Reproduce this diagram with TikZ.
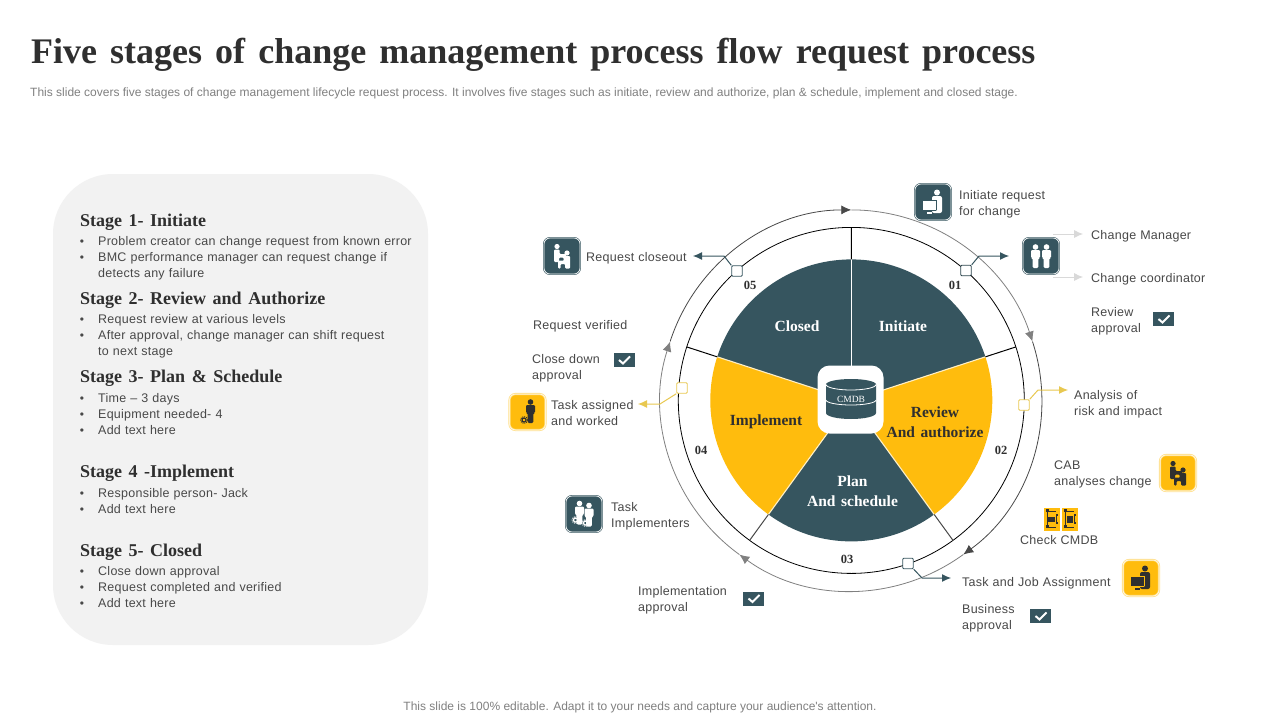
\documentclass[tikz,border=0pt]{standalone}
\usepackage{fontspec}
\setmainfont[WordSpace=1.1,LetterSpace=2]{Liberation Sans}
\newfontfamily\plainf{Liberation Sans}
\newfontfamily\serb[WordSpace=1.1]{Liberation Serif}
\newfontfamily\titlef[WordSpace=1.45]{Liberation Serif}
\usetikzlibrary{arrows.meta}
\definecolor{dk}{HTML}{36555F}
\definecolor{yl}{HTML}{FFBC0D}
\definecolor{ylb}{HTML}{FFE08A}
\definecolor{ylc}{HTML}{E8C850}
\definecolor{tx}{HTML}{484848}
\definecolor{pn}{HTML}{F2F2F2}
\definecolor{gl}{HTML}{2F2F2F}
\tikzset{
 lab/.style={anchor=west,inner sep=0,yshift=-2pt,align=left,text=tx,font=\fontsize{12.5}{16}\selectfont},
 head/.style={anchor=west,inner sep=0,yshift=-2pt,text=gl,font=\serb\bfseries\fontsize{18}{20}\selectfont},
 bul/.style={anchor=center,inner sep=0,yshift=-2pt,text=tx,font=\fontsize{12}{16}\selectfont},
 wl/.style={anchor=center,inner sep=0,align=center,font=\serb\bfseries\fontsize{15.5}{20}\selectfont},
 num/.style={anchor=center,inner sep=0,text=gl,font=\serb\bfseries\fontsize{12.5}{14}\selectfont},
 sq/.style={draw=#1,fill=white,line width=.9pt,rounded corners=1pt,minimum size=10.5pt,inner sep=0},
 icoD/.style={rectangle,minimum size=36pt,inner sep=0,rounded corners=6pt,fill=dk,draw=dk,double=white,line width=.6pt,double distance=.7pt},
 icoY/.style={rectangle,minimum size=36pt,inner sep=0,rounded corners=6pt,fill=yl,draw=ylb,double=white,line width=.8pt,double distance=.5pt},
 chk/.style={rectangle,minimum width=21pt,minimum height=14pt,inner sep=0,fill=dk},
 chip/.style={rectangle,minimum width=16pt,minimum height=23pt,inner sep=0,fill=yl},
 conn/.style={line width=1pt,-{Latex[length=9pt,width=8pt]}},
 ring/.style={line width=.8pt},
 rarr/.style={line width=.8pt,-{Latex[length=10pt,width=9pt]}}
}
\newcommand\tick[1]{\draw[white,line width=2pt] ([xshift=-5pt,yshift=0pt]#1.center) -- ([xshift=-1pt,yshift=-3.5pt]#1.center) -- ([xshift=6pt,yshift=3.5pt]#1.center);}
\newcommand\gStand[3]{\fill[#3] (#1,#2+9) circle (2.8);
 \fill[#3,rounded corners=1.2pt] (#1-4.5,#2+6) -- (#1+4.5,#2+6) -- (#1+4.5,#2-2) -- (#1+3,#2-2) -- (#1+2.8,#2-12) -- (#1-2.8,#2-12) -- (#1-3,#2-2) -- (#1-4.5,#2-2) -- cycle;}
\newcommand\gSeat[4]{\begin{scope}[shift={(#1,#2)},xscale=#4]
 \fill[#3] (0,6.5) circle (2.6);
 \fill[#3,rounded corners=1pt] (-3,3.5) -- (2.6,3.5) -- (2.6,-1) -- (9,-1) -- (9,-9) -- (6.5,-9) -- (6.5,-4.5) -- (2,-4.5) -- (2,-9) -- (-3,-9) -- cycle;
 \end{scope}}
\newcommand\gDesk[2]{\fill[#1] (4,9.5) circle (3);
 \fill[#1,rounded corners=2pt] (-1,6) -- (9,6) -- (9,-11) -- (-1,-11) -- cycle;
 \fill[#1] (-10,-8) rectangle (3,1.5);
 \draw[#2,line width=.8pt] (3.4,-8.4) -- (3.4,1.9) -- (-1.5,1.9);
 \draw[#2,line width=.8pt] (-10,-8.5) -- (3.4,-8.4);
 \fill[#1] (-6.5,-11.5) rectangle (-1.5,-10);}
\newcommand\gGear[3]{\draw[#3,line width=1.2pt] (#1,#2) circle (2);
 \draw[#3,line width=1pt,dash pattern=on 1pt off 1pt] (#1,#2) circle (3.4);}
\begin{document}
\begin{tikzpicture}[x=1pt,y=1pt]
\useasboundingbox (0,0) rectangle (1280,-720);
\fill[white] (0,0) rectangle (1280,-720);
% title
\node[anchor=base west,inner sep=0,text=gl,font=\titlef\bfseries\fontsize{36}{40}\selectfont] (title) at (31,-63) {Five stages of change management process flow request process};
\node[anchor=base west,inner sep=0,text=gray,font=\plainf\fontsize{12}{14}\selectfont] (sub) at (30,-96.5) {This slide covers five stages of change management lifecycle request process. It involves five stages such as initiate, review and authorize, plan \& schedule, implement and closed stage.};
\node[anchor=center,inner sep=0,text=gray,font=\plainf\fontsize{12}{14}\selectfont] (foot) at (640,-707) {This slide is 100\% editable. Adapt it to your needs and capture your audience's attention.};
% left panel
\fill[pn,rounded corners=60pt] (53,-174) rectangle (428,-645);
\node[head] (h1) at (80,-220) {Stage 1- Initiate};
\node[head] (h2) at (80,-298) {Stage 2- Review and Authorize};
\node[head] (h3) at (80,-376) {Stage 3- Plan \& Schedule};
\node[head] (h4) at (80,-471) {Stage 4 -Implement};
\node[head] (h5) at (80,-550) {Stage 5- Closed};
\foreach \nm/\yy/\tt in {a/240/Problem creator can change request from known error,
 b/256/BMC performance manager can request change if,
 d/318/Request review at various levels,
 e/334/{After approval, change manager can shift request},
 g/397/Time – 3 days,
 h/413/Equipment needed- 4,
 i/429/Add text here,
 j/492/Responsible person- Jack,
 k/508/Add text here,
 l/570/Close down approval,
 m/586/Request completed and verified,
 n/602/Add text here}{
 \node[bul] (b\nm) at (82,-\yy) {\strut•};
 \node[lab] (t\nm) at (98,-\yy) {\strut\tt\strut};
}
\node[lab] (tc) at (98,-272) {\strut detects any failure\strut};
\node[lab] (tf) at (98,-350) {\strut to next stage\strut};
% pie
\begin{scope}[shift={(851.3,-400.4)}]
 \draw[black,ring] (0,0) circle (173);
 \fill[dk] (0,0) -- (90:141) arc (90:18:141) -- cycle;
 \fill[yl] (0,0) -- (18:141) arc (18:-54:141) -- cycle;
 \fill[dk] (0,0) -- (-54:141) arc (-54:-126:141) -- cycle;
 \fill[yl] (0,0) -- (-126:141) arc (-126:-198:141) -- cycle;
 \fill[dk] (0,0) -- (162:141) arc (162:90:141) -- cycle;
 \draw[white,line width=1.1pt] (90:30) -- (90:141);
 \draw[ylb!50!white,line width=1.1pt] (18:30) -- (18:141) (162:30) -- (162:141) (-54:30) -- (-54:141) (-126:30) -- (-126:141);
 \draw[black,line width=1pt] (90:141) -- (90:173) (18:141) -- (18:173) (162:141) -- (162:173);
 \draw[tx,line width=1pt] (-54:141) -- (-54:173) (-126:141) -- (-126:173);
 % outer ring
 \draw[gray,rarr] (90:190.5) arc (90:18:190.5);
 \draw[tx,rarr] (18:190.5) arc (18:-54:190.5);
 \draw[gray,rarr] (-54:190.5) arc (-54:-126:190.5);
 \draw[gray,rarr] (-126:190.5) arc (-126:-198:190.5);
 \draw[tx,rarr] (162:190.5) arc (162:90:190.5);
\end{scope}
% hub
\node[rectangle,fill=white,rounded corners=12pt,minimum width=66pt,minimum height=68pt,inner sep=0] (hub) at (850.5,-399.5) {};
\begin{scope}[shift={(851,-400)}]
 \fill[dk] (-25,15.5) arc (180:0:25 and 5.5) -- (25,-13) arc (0:-180:25 and 6) -- cycle;
 \draw[white,line width=.8pt] (-25,15.5) arc (180:360:25 and 5.5);
 \draw[white,line width=.8pt] (-25,0) arc (180:360:25 and 5);
\end{scope}
\node[anchor=center,inner sep=0,text=white,font=\serb\fontsize{9.5}{10}\selectfont] (cmdb) at (851,-399.5) {CMDB};
% wedge labels
\node[wl,text=white] (w5) at (797,-326) {Closed};
\node[wl,text=white] (w1) at (903,-326) {Initiate};
\node[wl,text=gl] (w2) at (935,-422) {Review\\And authorize};
\node[wl,text=gl] (w4) at (766,-422) {Implement};
\node[wl,text=white] (w3) at (852.5,-491) {Plan\\And schedule};
% numbers
\node[num] (n1) at (955,-285) {01};
\node[num] (n2) at (1001,-450) {02};
\node[num] (n3) at (847,-559.5) {03};
\node[num] (n4) at (701,-450) {04};
\node[num] (n5) at (750,-285) {05};
% connector squares and elbows
\node[sq=dk!80!black] (s1) at (966,-270.5) {};
\node[sq=ylc] (s2) at (1024,-405) {};
\node[sq=dk] (s3) at (908,-563.5) {};
\node[sq=ylc] (s4) at (682,-388) {};
\node[sq=dk] (s5) at (737,-271) {};
\coordinate (e1) at (1009,-256);
\coordinate (e2) at (1068,-390);
\coordinate (e3) at (951,-578);
\coordinate (e4) at (638,-404);
\coordinate (e5) at (693,-256);
\draw[conn,dk] (s1.north east) -- (979,-256) -- (e1);
\draw[conn,ylc] (s2.north east) -- (1038,-390) -- (e2);
\draw[conn,dk] (s3.south east) -- (922,-578) -- (e3);
\draw[conn,ylc] (s4.south west) -- (660,-404) -- (e4);
\draw[conn,dk] (s5.north west) -- (724,-256) -- (e5);
% gray arrows
\coordinate (g1s) at (1053,-234);\coordinate (g1e) at (1083,-234);
\coordinate (g2s) at (1053,-277);\coordinate (g2e) at (1083,-277);
\draw[conn,gray!30,line width=.8pt] (g1s) -- (g1e);
\draw[conn,gray!30,line width=.8pt] (g2s) -- (g2e);
% icons
\node[icoD] (i1) at (933,-202) {};
\begin{scope}[shift={(i1.center)}]\gDesk{white}{dk}\end{scope}
\node[icoD] (i2) at (1041,-256) {};
\begin{scope}[shift={(i2.center)}]\gStand{-5.5}{0}{white}\gStand{5.5}{0}{white}\end{scope}
\node[icoD] (i3) at (562,-256) {};
\begin{scope}[shift={(i3.center)}]\gSeat{-5}{3}{white}{1}\gSeat{5}{-3.5}{white}{-1}\end{scope}
\node[icoY] (i4) at (527.5,-412) {};
\begin{scope}[shift={(i4.center)}]\gStand{3}{1}{gl}\gGear{-3.5}{-8}{gl}\end{scope}
\node[icoY] (i5) at (1178,-473) {};
\begin{scope}[shift={(i5.center)}]\gSeat{-5}{3}{gl}{1}\gSeat{5}{-3.5}{gl}{-1}\end{scope}
\node[icoY] (i6) at (1141,-578) {};
\begin{scope}[shift={(i6.center)}]\gDesk{gl}{yl}\end{scope}
\node[icoD] (i7) at (584,-514) {};
\begin{scope}[shift={(i7.center)}]\gStand{-4.5}{1.5}{white}\gStand{5}{-0.5}{white}\gGear{-8.5}{-6}{white}\gGear{1.5}{-9}{white}\end{scope}
% chips
\node[chip] (c1) at (1052,-519.5) {};
\node[chip] (c2) at (1070,-519.5) {};
\begin{scope}[shift={(c1.center)}]
 \draw[gl,line width=.5pt] (-4.3,8) -- (-4.3,-7) (4.7,4.5) -- (4.7,-4) (-4,8.5) -- (4,8.5) (-4,-7.5) -- (4,-7.5);
 \fill[gl] (-5.8,7.2) rectangle +(3,3); \fill[gl] (-5.8,-8.5) rectangle +(3,3);
 \fill[gl] (3.7,3.7) rectangle +(2,2); \fill[gl] (3.7,-4.7) rectangle +(2,2);
 \fill[gl] (-3.7,-2) rectangle (3,2.3);
\end{scope}
\begin{scope}[shift={(c2.center)}]
 \draw[gl,line width=.5pt] (-4.3,8) -- (-4.3,-7) (4.7,4.5) -- (4.7,-4) (-4,8.5) -- (4,8.5) (-4,-7.5) -- (4,-7.5);
 \fill[gl] (-5.8,7.2) rectangle +(3,3); \fill[gl] (-5.8,-8.5) rectangle +(3,3);
 \fill[gl] (3.7,3.7) rectangle +(2,2); \fill[gl] (3.7,-4.7) rectangle +(2,2);
 \fill[gl] (-3.3,-3.7) rectangle (3.3,3.7);
\end{scope}
% checks
\node[chk] (k1) at (1163.5,-319) {}; \tick{k1}
\node[chk] (k2) at (1040.5,-616) {}; \tick{k2}
\node[chk] (k3) at (753.5,-598.5) {}; \tick{k3}
\node[chk] (k4) at (624,-360) {}; \tick{k4}
% labels
\node[lab] (l1) at (959,-202) {\strut Initiate request\\for change\strut};
\node[lab] (l2) at (1091,-234) {\strut Change Manager\strut};
\node[lab] (l3) at (1091,-277) {\strut Change coordinator\strut};
\node[lab] (l4) at (1091,-319) {\strut Review\\approval\strut};
\node[lab] (l5) at (1074,-402) {\strut Analysis of\\risk and impact\strut};
\node[lab] (l6) at (1054,-472) {\strut CAB\\analyses change\strut};
\node[lab] (l7) at (1020,-539) {\strut Check CMDB\strut};
\node[lab] (l8) at (962,-581) {\strut Task and Job Assignment\strut};
\node[lab] (l9) at (962,-616) {\strut Business\\approval\strut};
\node[lab] (l10) at (638,-598) {\strut Implementation\\approval\strut};
\node[lab] (l11) at (611,-514) {\strut Task\\Implementers\strut};
\node[lab] (l12) at (551,-412) {\strut Task assigned\\and worked\strut};
\node[lab] (l13) at (532,-366) {\strut Close down\\approval\strut};
\node[lab] (l14) at (533,-324) {\strut Request verified\strut};
\node[lab] (l15) at (586,-256) {\strut Request closeout\strut};
\end{tikzpicture}
\end{document}
